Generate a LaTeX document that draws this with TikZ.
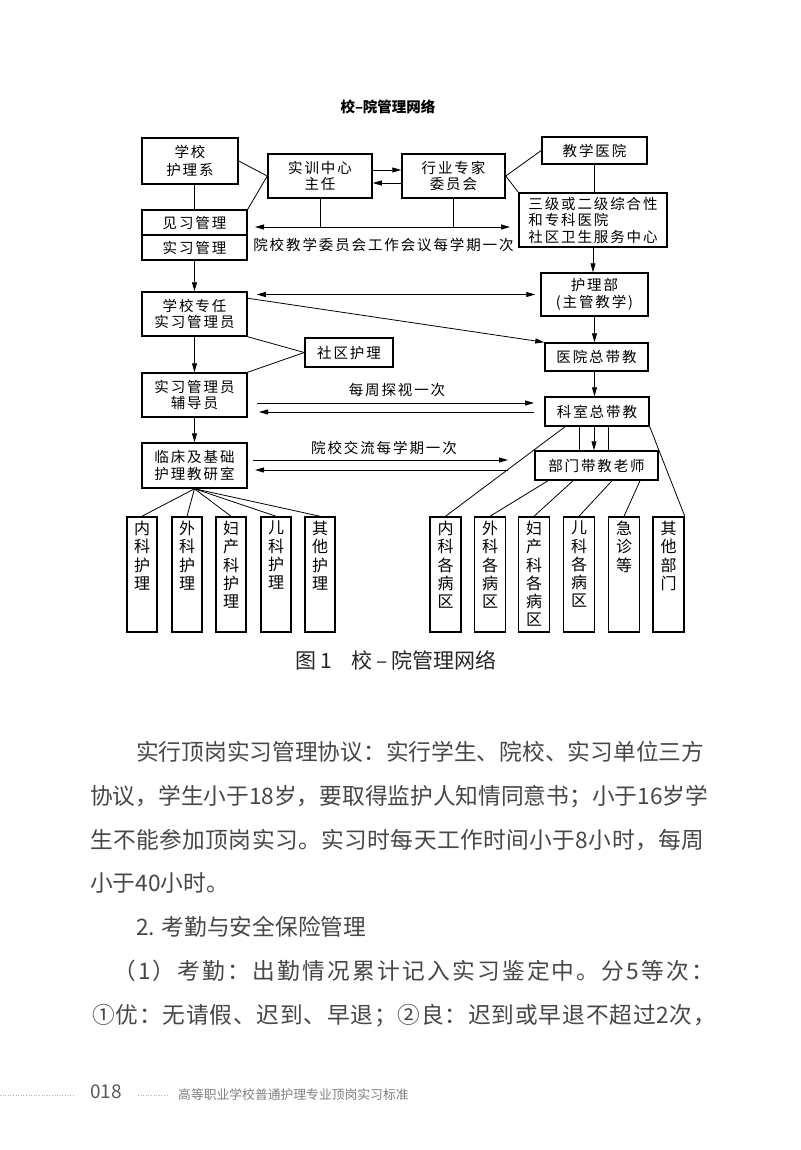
\documentclass[tikz,border=0pt]{standalone}
\usepackage{fontspec}
\setmainfont{Noto Sans CJK SC}
\newfontfamily\boxfont[LetterSpace=13]{Noto Sans CJK SC}
\usepackage{tikz}
\usetikzlibrary{positioning,calc}
\usetikzlibrary{arrows.meta}
\newcommand\bxf{\boxfont\fontsize{14.5}{16.5}\selectfont}
\newcommand\lff{\fontsize{16}{18.3}\selectfont}
\newcommand\bdf{\fontsize{22.7}{43}\selectfont}
\newcommand\vcol[1]{\parbox[c][107pt][t]{20pt}{\centering\lff #1}}
\makeatletter
\newcommand\jline[2]{\hbox to #1{\@tfor\@ch:=#2\do{\@ch\hfil}\unskip}}
\makeatother
\tikzset{box/.style={draw,line width=1.5pt,inner sep=0pt,align=center,font=\bxf},
 leaf/.style={draw,line width=1.5pt,minimum width=30,minimum height=115,inner sep=0pt},
 link/.style={line width=0.8pt},
 arr/.style={line width=0.8pt,-{Triangle[length=9pt,width=5pt]}},
 darr/.style={line width=0.8pt,{Triangle[length=9pt,width=5pt]}-{Triangle[length=9pt,width=5pt]}},
 lbl/.style={inner sep=0pt,font=\bxf},
 bodyline/.style={anchor=base west,inner sep=0pt,font=\bdf,text=black!72}}

\begin{document}
\begin{tikzpicture}[x=1pt,y=-1pt]
\useasboundingbox (0,0) rectangle (800,1150);
\fill[white] (0,0) rectangle (800,1150);
\node[font=\bfseries\fontsize{14.5}{16}\selectfont] (title) at (388,107) {校–院管理网络};
% boxes
\node[box,minimum width=96,minimum height=46] (hs) at (190,161) {学校\\[2pt]护理系};
\node[box,minimum width=104,minimum height=44] (sx) at (320,176) {实训中心\\主任};
\node[box,minimum width=103,minimum height=44] (hy) at (453.5,176) {行业专家\\委员会};
\node[box,minimum width=105,minimum height=27] (jy) at (594.5,150.5) {教学医院};
\node[box,align=left,minimum width=148,minimum height=54] (sj) at (593,220) {三级或二级综合性\\和专科医院\\社区卫生服务中心};
\node[box,minimum width=105,minimum height=25] (jx) at (194.5,222.5) {见习管理};
\node[box,minimum width=105,minimum height=25] (sg) at (194.5,247.5) {实习管理};
\node[box,minimum width=105,minimum height=44] (zr) at (194.5,314) {学校专任\\实习管理员};
\node[box,minimum width=107,minimum height=43] (hl) at (594.5,294.5) {护理部\\(主管教学)};
\node[box,minimum width=103,minimum height=28] (yy) at (596.5,357) {医院总带教};
\node[box,minimum width=88,minimum height=29] (sq) at (349,352.5) {社区护理};
\node[box,minimum width=105,minimum height=44] (fd) at (194.5,395) {实习管理员\\辅导员};
\node[box,minimum width=104,minimum height=29] (ks) at (597,411.5) {科室总带教};
\node[box,minimum width=105,minimum height=45] (lc) at (194.5,465.5) {临床及基础\\护理教研室};
\node[box,minimum width=123,minimum height=29] (bm) at (596.5,465.5) {部门带教老师};
\foreach \x/\txt [count=\i] in {142/{内\\科\\护\\理},187/{外\\科\\护\\理},231/{妇\\产\\科\\护\\理},276/{儿\\科\\护\\理},320/{其\\他\\护\\理}}
  \node[leaf] (l\i) at (\x,574.5) {\vcol{\txt}};
\foreach \x/\txt [count=\i] in {445.5/{内\\科\\各\\病\\区},490/{外\\科\\各\\病\\区},534/{妇\\产\\科\\各\\病\\区},579/{儿\\科\\各\\病\\区},624/{急\\诊\\等},668.5/{其\\他\\部\\门}}
  \node[leaf,minimum width=31] (r\i) at (\x,574.5) {\vcol{\txt}};
% top part
\draw[link] (jx.north |- hs.south) -- (jx.north);
\draw[link] (hs.east) -- (sx.west);
\draw[link] (jx.north east) -- (sx.west);
\draw[arr] ($(sx.east)+(0,-6)$) -- ($(hy.west)+(0,-6)$);
\draw[arr] ($(hy.west)+(0,7)$) -- ($(sx.east)+(0,7)$);
\draw[link] (hy.east) -- (jy.west);
\draw[link] (hy.east) -- (sj.north west);
\draw[link] (jy.south) -- (jy.south |- sj.north);
\coordinate (wl) at (255,227);
\coordinate (wr) at (510,227);
\draw[darr] (wl) -- (wr);
\draw[link] (sx.south) -- (sx.south |- wl);
\draw[link] (hy.south) -- (hy.south |- wr);
\node[lbl] (wlab) at (383.5,245) {院校教学委员会工作会议每学期一次};
% middle part
\draw[arr] (sj.south) -- (sj.south |- hl.north);
\draw[arr] (sg.south) -- (zr.north);
\draw[darr] ($(zr.east |- hl.west)+(9,0)$) -- ($(hl.west)+(-5,0)$);
\draw[arr] ($(zr.north east)+(0,7)$) -- (yy.north west);
\draw[arr] (zr.south) -- (fd.north);
\draw[link] (zr.south east) -- (sq.west);
\draw[link] (fd.north east) -- (sq.west);
\draw[arr] (hl.south) -- (hl.south |- yy.north);
\draw[arr] (hl.south |- yy.south) -- (hl.south |- ks.north);
\coordinate (v1) at (257,403);
\coordinate (v2) at (534,403);
\coordinate (v3) at (534,412);
\coordinate (v4) at (259,412);
\draw[arr] (v1) -- (v2);
\draw[arr] (v3) -- (v4);
\node[lbl] (vlab) at (397,390) {每周探视一次};
\draw[arr] (fd.south) -- (lc.north);
\coordinate (e1) at (253,460);
\coordinate (e2) at (508,460);
\coordinate (e3) at (508,470);
\coordinate (e4) at (255,470);
\draw[arr] (e1) -- (e2);
\draw[arr] (e3) -- (e4);
\node[lbl] (elab) at (384,448) {院校交流每学期一次};
% lower part
\coordinate (k1) at ($(ks.south)+(-18,0)$);
\coordinate (k2) at ($(ks.south)+(11,0)$);
\coordinate (k3) at ($(ks.south)+(-3,0)$);
\draw[link] (k1) -- (k1 |- bm.north);
\draw[link] (k2) -- (k2 |- bm.north);
\draw[arr] (k3) -- (k3 |- bm.north);
\draw[link] ($(ks.south)+(-32,0)$) -- (r1.north);
\draw[link] (ks.south east) -- (r6.north east);
\foreach \d/\j in {-48.5/2,-23.5/3,15.5/4,43.5/5}
  \draw[link] ($(bm.south)+(\d,0)$) -- (r\j.north);
\foreach \j in {1,...,5}
  \draw[link] (lc.south) -- (l\j.north);
\node[font=\fontsize{21}{22}\selectfont,text=black!85] (cap) at (396,660) {图\,1\hspace{20pt}校\,–\,院管理网络};
% text
\node[bodyline] (t1) at (136,760) {\jline{568pt}{实行顶岗实习管理协议：实行学生、院校、实习单位三方}};
\node[bodyline] (t2) at (90,804) {\jline{614pt}{协议，学生小于{18}岁，要取得监护人知情同意书；小于{16}岁学}};
\node[bodyline] (t3) at (90,848) {\jline{614pt}{生不能参加顶岗实习。实习时每天工作时间小于8小时，每周}};
\node[bodyline] (t4) at (90,891) {小于40小时。};
\node[bodyline] (t5) at (136,935) {2. 考勤与安全保险管理};
\node[bodyline] (t6) at (113,979) {\jline{601pt}{（1）考勤：出勤情况累计记入实习鉴定中。分5等次：}};
\node[bodyline] (t7) at (92,1023) {\jline{624pt}{①优：无请假、迟到、早退；②良：迟到或早退不超过2次，}};
% footer
\draw[gray!60,dotted,line width=0.6pt] (0,1095) -- (75,1095);
\node[font=\fontsize{19}{20}\selectfont,text=black!65] (pg) at (106,1092) {018};
\draw[gray!60,dotted,line width=0.6pt] (138,1095) -- (167,1095);
\node[anchor=west,inner sep=0pt,font=\fontsize{12.8}{13}\selectfont,text=black!50] (ft) at (178,1095) {高等职业学校普通护理专业顶岗实习标准};
\end{tikzpicture}
\end{document}
